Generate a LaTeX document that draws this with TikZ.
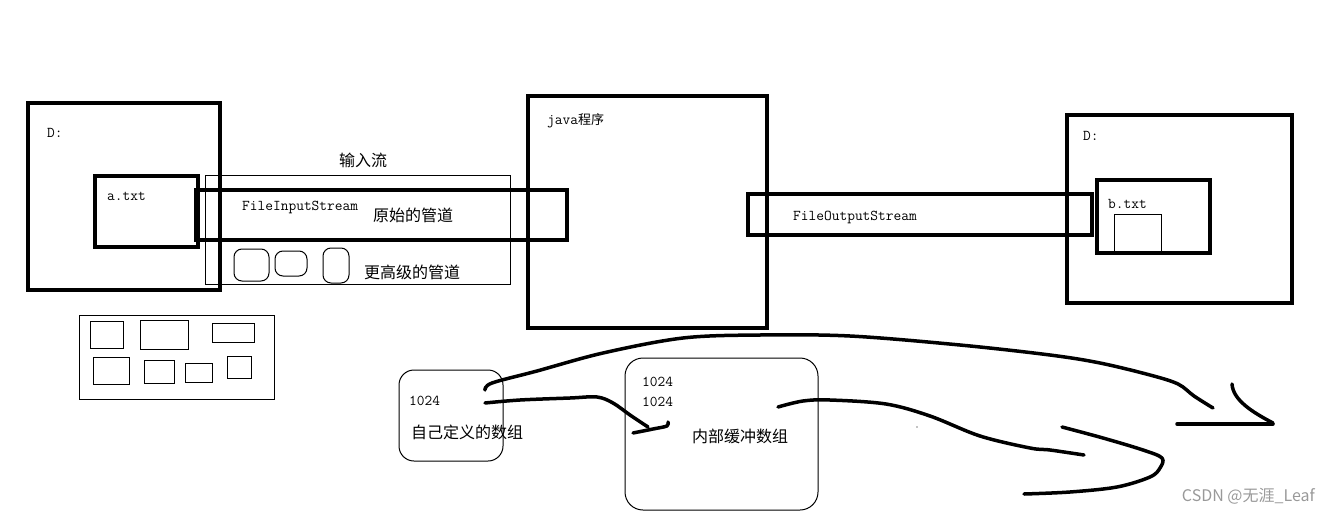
\documentclass[tikz,border=0pt]{standalone}
\usepackage{fontspec}
\newfontfamily\cjk{Noto Sans CJK SC}

\tikzset{
  heavybox/.style={draw, line width=4.5pt},
  thinbox/.style={draw, line width=1pt},
  roundbox/.style={draw, line width=1pt, rounded corners=8pt},
  pen/.style={line width=3.5pt, line cap=round, line join=round},
  code/.style={font=\ttfamily\fontsize{15}{15}\selectfont, anchor=west, inner sep=0pt},
  hanzi/.style={font=\cjk\fontsize{16}{16}\selectfont, anchor=west, inner sep=0pt},
}

\begin{document}
\begin{tikzpicture}[x=1pt, y=-1pt]
  \useasboundingbox (0,0) rectangle (1330,514);
  % left drive with a.txt
  \draw[heavybox] (28,103) rectangle (220,290);
  \node[code] (leftdrive) at (47,133) {D:};
  \draw[heavybox] (95,176) rectangle (198,247);
  \node[code] (afile) at (107,196) {a.txt};
  % input stream: thin frame, raw pipe, higher pipes
  \draw[thinbox] (205,175) rectangle (510,284);
  \node[hanzi, anchor=center] (instream) at (363,160) {输入流};
  \draw[heavybox] (196,190) rectangle (567,240);
  \node[code] (fis) at (242,207) {FileInputStream};
  \node[hanzi] (rawpipe) at (373,215) {原始的管道};
  \draw[roundbox] (234,249) rectangle (269,281);
  \draw[roundbox] (275,251) rectangle (307,276);
  \draw[roundbox] (323,248) rectangle (349,283);
  \node[hanzi] (highpipe) at (364,272) {更高级的管道};
  % loose blocks under the left drive
  \draw[thinbox] (79,315) rectangle (274,399);
  \draw[thinbox] (90,321) rectangle (123,348);
  \draw[thinbox] (140,320) rectangle (188,349);
  \draw[thinbox] (212,323) rectangle (254,342);
  \draw[thinbox] (93,357) rectangle (129,384);
  \draw[thinbox] (144,360) rectangle (174,383);
  \draw[thinbox] (185,363) rectangle (212,382);
  \draw[thinbox] (227,356) rectangle (251,378);
  % java program
  \draw[heavybox] (528,96) rectangle (767,328);
  \node[code] (prog) at (547,121) {java{\cjk\fontsize{13}{13}\selectfont 程序}};
  % output stream
  \draw[heavybox] (748,194) rectangle (1092,235);
  \node[code] (fos) at (793,217) {FileOutputStream};
  % right drive with b.txt
  \draw[heavybox] (1067,115) rectangle (1292,303);
  \node[code] (rightdrive) at (1083,136) {D:};
  \draw[heavybox] (1097,180) rectangle (1210,253);
  \node[code] (bfile) at (1108,204) {b.txt};
  \draw[thinbox] (1114,253) -- (1114,214) -- (1161,214) -- (1161,253);
  % arrays
  \draw[draw, line width=1pt, rounded corners=15pt] (399,370) rectangle (503,461);
  \node[code] (own1024) at (409,401) {1024};
  \node[hanzi] (ownarr) at (411,432) {自己定义的数组};
  \draw[draw, line width=1pt, rounded corners=18pt] (625,358) rectangle (818,510);
  \node[code] (buf1024a) at (642,382) {1024};
  \node[code] (buf1024b) at (642,402) {1024};
  \node[hanzi] (bufarr) at (692,436) {内部缓冲数组};
  % freehand strokes
  \draw[pen] plot[smooth, tension=0.55] coordinates {(485,390) (492,383) (537,371) (603,353) (683,338) (760,335) (850,336) (960,345) (1050,355) (1100,363) (1150,375) (1178,384) (1194,396) (1213,408)};
  \draw[pen] (1232,384) .. controls (1233,400) and (1252,412) .. (1273,423);
  \draw[pen] (1177,424) -- (1273,424);
  \draw[pen] plot[smooth, tension=0.55] coordinates {(485,403) (520,400) (570,398) (597,397) (613,403) (630,415) (648,427)};
  \draw[pen] plot[smooth, tension=0.5] coordinates {(633,433) (653,429) (667,426) (668,422)};
  \draw[pen] plot[smooth, tension=0.55] coordinates {(778,407) (803,401) (830,400) (886,404) (930,416) (980,436) (1030,448) (1050,450) (1084,455)};
  \draw[pen] plot[smooth, tension=0.55] coordinates {(1062,427) (1103,438) (1143,450) (1162,458) (1160,468) (1150,477) (1117,487) (1070,492) (1024,494)};
  \fill (917,412) circle (0.7);
  \fill (917,427) circle (0.7);
  % watermark
  \node[font=\cjk\fontsize{16}{16}\selectfont, text=black!40, anchor=east, inner sep=0pt] (mark) at (1315,496) {CSDN @无涯\_Leaf};
\end{tikzpicture}
\end{document}
